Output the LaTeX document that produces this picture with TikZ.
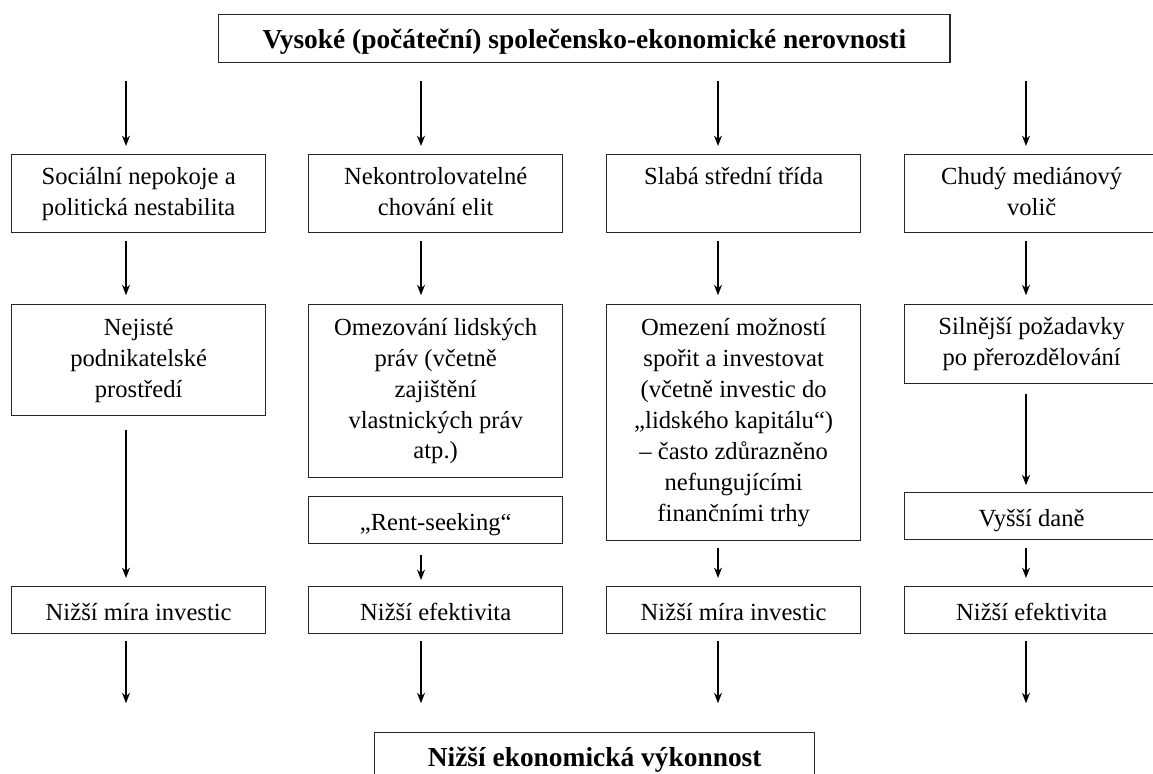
\documentclass[tikz,border=0pt]{standalone}
\usepackage{fontspec}
\setmainfont{Liberation Serif}
\usepackage{tikz}
\usetikzlibrary{arrows.meta}
\tikzset{>={Stealth[length=2.6mm,width=2mm]}}
\tikzset{
  box/.style={draw=black!85, line width=0.9pt, anchor=north west, align=center,
    minimum width=6.35cm, minimum height=1.95cm, inner ysep=5.7pt, font=\fontsize{17.5}{22}\selectfont,
    execute at begin node=\rule{0pt}{18.4pt}, execute at end node=\rule[-3.6pt]{0pt}{3.6pt}},
  hlavni/.style={box, font=\fontsize{19.5}{22}\selectfont\bfseries, minimum height=1.2cm},
  arr/.style={->, line width=0.8pt, shorten <=0.2cm, shorten >=0.2cm}
}

\begin{document}
\begin{tikzpicture}[x=0.025cm,y=-0.025cm]
\useasboundingbox (0,0) rectangle (1153,774);
\clip (0,0) rectangle (1153,774);
\node[hlavni, minimum width=18.28cm] (ner) at (218,14) {Vysoké (počáteční) společensko-ekonomické nerovnosti};
    \node[box] (soc) at (11,154) {Sociální nepokoje a\\ politická nestabilita};
    \node[box] (nek) at (308,154) {Nekontrolovatelné\\ chování elit};
    \node[box] (sla) at (606,154) {Slabá střední třída\\~};
    \node[box] (chu) at (904,154) {Chudý mediánový\\ volič};
    \node[box, minimum height=2.775cm] (nej) at (11,304) {Nejisté\\ podnikatelské\\ prostředí};
    \node[box, minimum height=4.325cm] (omz) at (308,304) {Omezování lidských\\ práv (včetně\\ zajištění\\ vlastnických práv\\ atp.)};
    \node[box, minimum height=5.9cm] (ome) at (606,304) {Omezení možností\\ spořit a investovat\\ (včetně investic do\\ „lidského kapitálu“)\\ – často zdůrazněno\\ nefungujícími\\ finančními trhy};
    \node[box, minimum height=1.975cm] (sil) at (904,304) {Silnější požadavky\\ po přerozdělování};
    \node[box, minimum height=1.175cm] (rent) at (308,496) {„Rent-seeking“};
    \node[box, minimum height=1.175cm] (dan) at (904,492) {Vyšší daně};
    \node[box, minimum height=1.175cm] (inv1) at (11,586) {Nižší míra investic};
    \node[box, minimum height=1.175cm] (nef1) at (308,586) {Nižší efektivita};
    \node[box, minimum height=1.175cm] (inv2) at (606,586) {Nižší míra investic};
    \node[box, minimum height=1.175cm] (nef2) at (904,586) {Nižší efektivita};
\node[hlavni, minimum width=11cm] (vyk) at (374,732) {Nižší ekonomická výkonnost};
% osy sloupcu pro sipky
\coordinate (c1) at (126,0);
\coordinate (c2) at (421,0);
\coordinate (c3) at (718,0);
\coordinate (c4) at (1026,0);
\foreach \c/\b in {c1/soc,c2/nek,c3/sla,c4/chu}
    \draw[arr, shorten <=0.45cm] (\c |- ner.south) -- (\c |- \b.north);
\foreach \c/\a/\b in {c1/soc/nej,c2/nek/omz,c3/sla/ome,c4/chu/sil}
    \draw[arr, shorten >=0.22cm] (\c |- \a.south) -- (\c |- \b.north);
    \draw[arr, shorten <=0.35cm] (c1 |- nej.south) -- (c1 |- inv1.north);
    \draw[arr, shorten <=0.27cm, shorten >=0.15cm] (c2 |- rent.south) -- (c2 |- nef1.north);
    \draw[arr, shorten <=0.17cm] (c3 |- ome.south) -- (c3 |- inv2.north);
    \draw[arr, shorten <=0.25cm, shorten >=0.17cm] (c4 |- sil.south) -- (c4 |- dan.north);
    \draw[arr] (c4 |- dan.south) -- (c4 |- nef2.north);
\foreach \c/\a in {c1/inv1,c2/nef1,c3/inv2,c4/nef2}
    \draw[arr, shorten <=0.17cm, shorten >=0.72cm] (\c |- \a.south) -- (\c |- vyk.north);
\end{tikzpicture}
\end{document}
